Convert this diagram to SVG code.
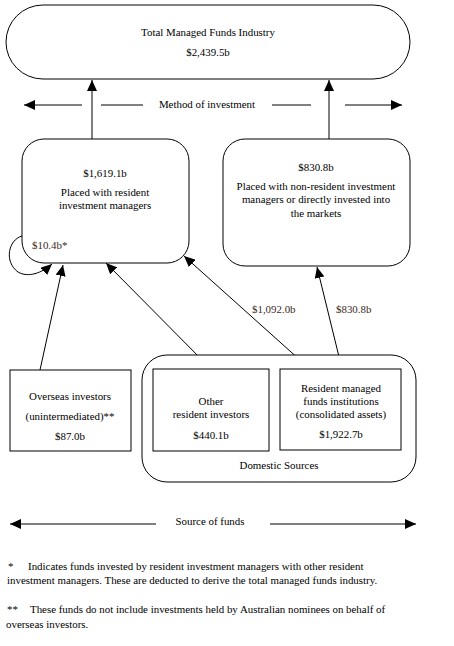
<svg xmlns="http://www.w3.org/2000/svg" width="454" height="646" viewBox="0 0 454 646">
<defs>
<marker id="ah" markerUnits="userSpaceOnUse" markerWidth="12" markerHeight="10" refX="11" refY="5" orient="auto">
<path d="M0,0 L11,5 L0,10 z" fill="#000"/>
</marker>
</defs>
<style>
text{font-family:"Liberation Serif","Times New Roman",serif;font-size:10.9px;fill:#000}
.c{text-anchor:middle}
.lbl{fill:#3a2a1a}
.box{fill:#fff;stroke:#000;stroke-width:1}
.ln{fill:none;stroke:#000;stroke-width:1}
</style>
<rect width="454" height="646" fill="#fff"/>
<g id="connectors">
<line class="ln" x1="92" y1="139" x2="92" y2="80" marker-end="url(#ah)"/>
<line class="ln" x1="329" y1="139" x2="329" y2="80" marker-end="url(#ah)"/>
<line class="ln" x1="82" y1="105" x2="24" y2="105" marker-end="url(#ah)"/>
<line class="ln" x1="101" y1="105" x2="143" y2="105"/>
<line class="ln" x1="272" y1="105" x2="311" y2="105"/>
<line class="ln" x1="345" y1="105" x2="402" y2="105" marker-end="url(#ah)"/>
<path class="ln" d="M22,236 C8,240 4,262 18,272 C28,278 42,273 52,264" marker-end="url(#ah)"/>
<line class="ln" x1="40" y1="370" x2="63" y2="265" marker-end="url(#ah)"/>
<line class="ln" x1="211" y1="369" x2="106" y2="263" marker-end="url(#ah)"/>
<line class="ln" x1="310" y1="369" x2="184" y2="256" marker-end="url(#ah)"/>
<line class="ln" x1="342" y1="369" x2="317" y2="267" marker-end="url(#ah)"/>
<line class="ln" x1="156" y1="524" x2="10" y2="524" marker-end="url(#ah)"/>
<line class="ln" x1="270" y1="524" x2="416" y2="524" marker-end="url(#ah)"/>
<text class="lbl" x="252" y="313">$1,092.0b</text>
<text class="lbl" x="336" y="313">$830.8b</text>
<text class="c" x="207" y="108">Method of investment</text>
<text class="c" x="210" y="525">Source of funds</text>
</g>
<g id="total">
<rect class="box" x="6" y="5" width="404" height="74" rx="37" ry="37"/>
<text class="c" x="208" y="36">Total Managed Funds Industry</text>
<text class="c" x="208" y="56">$2,439.5b</text>
</g>
<g id="resident-managers">
<rect class="box" x="22" y="139" width="167" height="124" rx="22" ry="22"/>
<text class="c" x="105" y="177">$1,619.1b</text>
<text class="c" x="105" y="196">Placed with resident</text>
<text class="c" x="105" y="209">investment managers</text>
<text class="lbl" x="32" y="249">$10.4b*</text>
</g>
<g id="non-resident">
<rect class="box" x="223" y="139" width="187" height="127" rx="22" ry="22"/>
<text class="c" x="316" y="171">$830.8b</text>
<text class="c" x="316" y="190">Placed with non-resident investment</text>
<text class="c" x="316" y="203">managers or directly invested into</text>
<text class="c" x="316" y="217">the markets</text>
</g>
<g id="domestic">
<rect class="box" x="142" y="355" width="274" height="127" rx="25" ry="25"/>
<text class="c" x="279" y="469">Domestic Sources</text>
</g>
<g id="overseas">
<rect class="box" x="10" y="370" width="121" height="81"/>
<text class="c" x="70" y="400">Overseas investors</text>
<text class="c" x="70" y="420">(unintermediated)**</text>
<text class="c" x="70" y="440">$87.0b</text>
</g>
<g id="other-resident">
<rect class="box" x="153" y="369" width="116" height="82"/>
<text class="c" x="211" y="405">Other</text>
<text class="c" x="211" y="418">resident investors</text>
<text class="c" x="211" y="439">$440.1b</text>
</g>
<g id="resident-funds">
<rect class="box" x="280" y="369" width="121" height="81"/>
<text class="c" x="341" y="392">Resident managed</text>
<text class="c" x="341" y="405">funds institutions</text>
<text class="c" x="341" y="418">(consolidated assets)</text>
<text class="c" x="341" y="438">$1,922.7b</text>
</g>
<g id="footnotes">
<text x="8" y="570">*</text>
<text x="28" y="570">Indicates funds invested by resident investment managers with other resident</text>
<text x="7" y="584">investment managers. These are deducted to derive the total managed funds industry.</text>
<text x="7" y="613">**</text>
<text x="30" y="613">These funds do not include investments held by Australian nominees on behalf of</text>
<text x="6" y="628">overseas investors.</text>
</g>
</svg>
